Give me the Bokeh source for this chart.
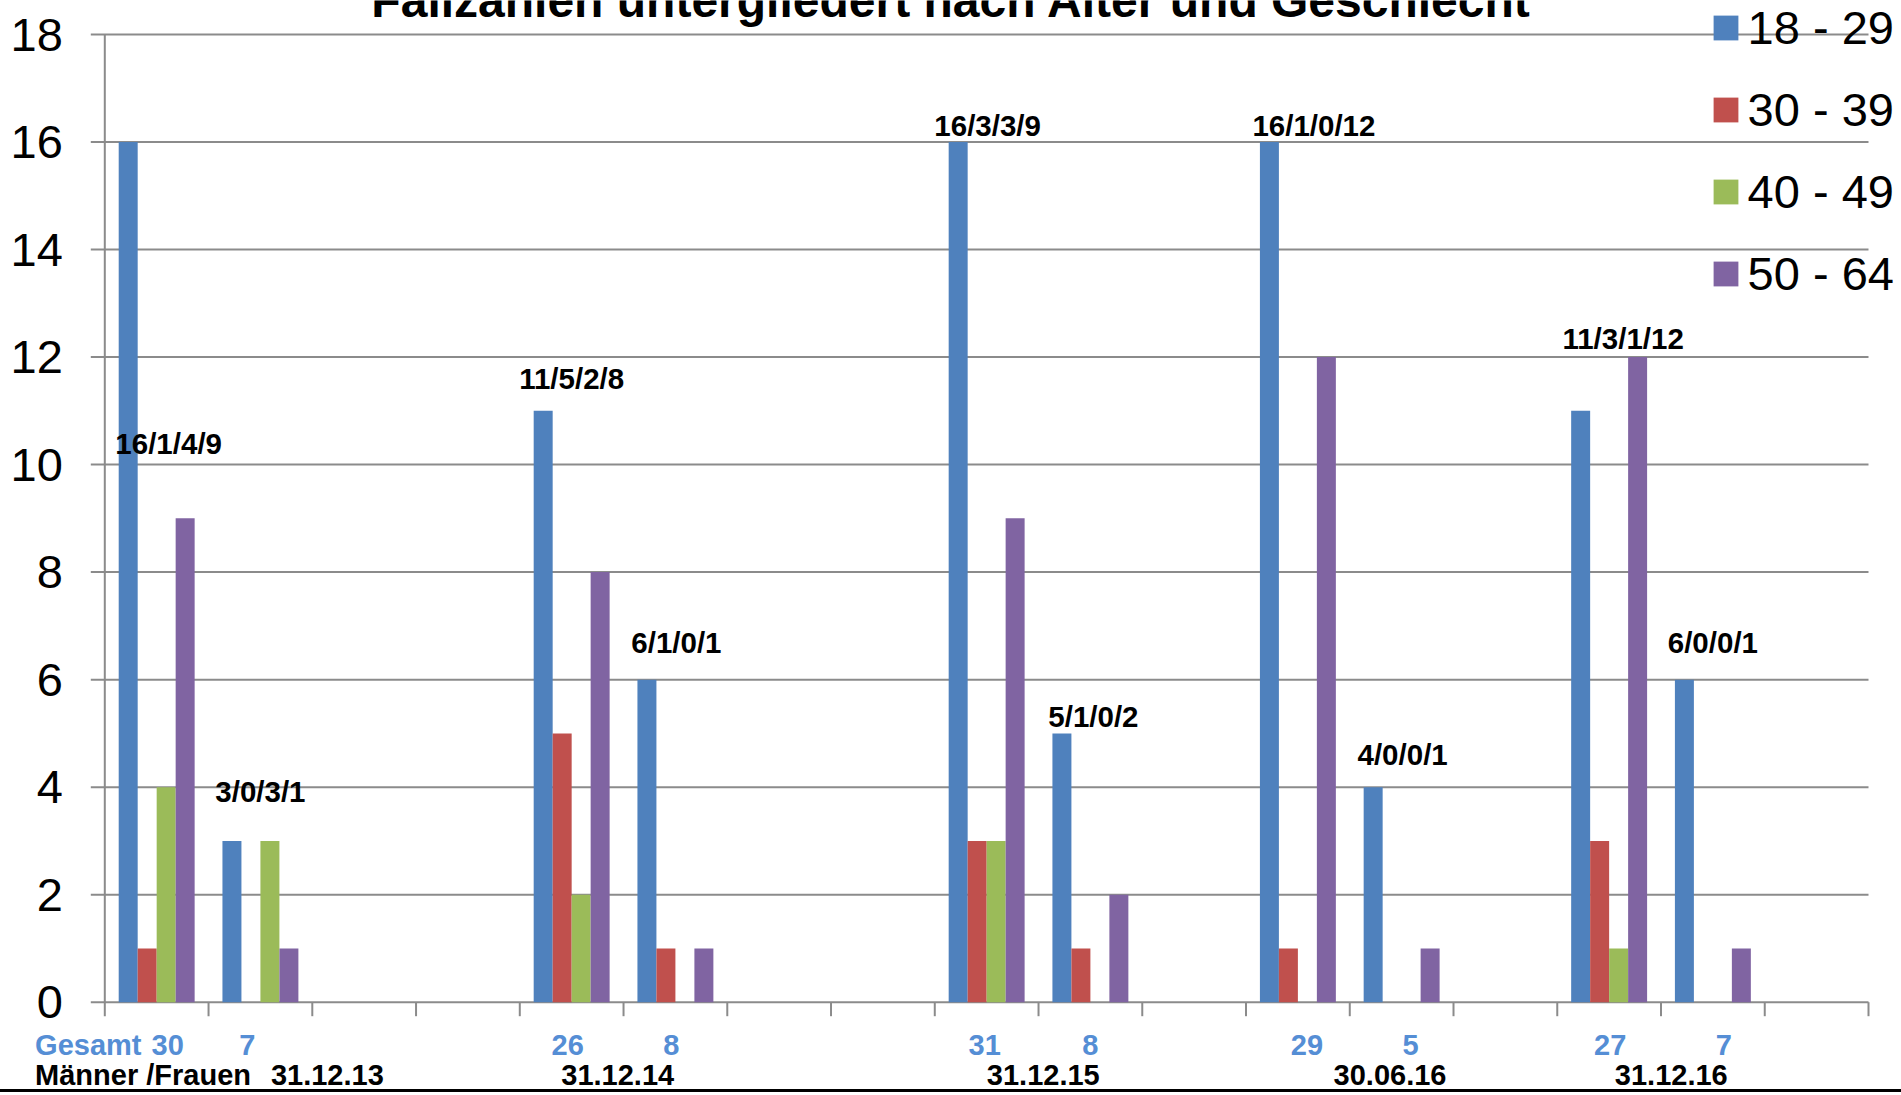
from bokeh.plotting import figure
from bokeh.models import (Range1d, ColumnDataSource, LabelSet, Label, Legend, LegendItem)
from bokeh.transform import dodge
from bokeh.core.properties import value
from bokeh.embed import file_html
from bokeh.resources import INLINE

# ---------------- data ----------------
title_text = "Fallzahlen untergliedert nach Alter und Geschlecht"
dates = ["31.12.13", "31.12.14", "31.12.15", "30.06.16", "31.12.16"]
genders = ["Männer", "Frauen"]
age_groups = ["18 - 29", "30 - 39", "40 - 49", "50 - 64"]
age_18_29 = [16, 3, 11, 6, 16, 5, 16, 4, 11, 6]
age_30_39 = [1, 0, 5, 1, 3, 1, 1, 0, 3, 0]
age_40_49 = [4, 3, 2, 0, 3, 0, 0, 0, 1, 0]
age_50_64 = [9, 1, 8, 1, 9, 2, 12, 1, 12, 1]
y_ticks = [0, 2, 4, 6, 8, 10, 12, 14, 16, 18]
total_prefix = "Gesamt"
row_prefix = "Männer /Frauen"

# ---------------- layout / style ----------------
W, H = 1901, 1092                  # canvas (plus a 3px bottom border line)
X0_PX, X17_PX = 104.3, 1868.0      # pixel columns of the category axis ends
Y0_PX, Y18_PX = 1001.7, 34.0       # pixel rows of value 0 and value 18
gaps_after = [2, 2, 1, 1, 1]       # empty category slots after each date group
label_dx = [12, 0, 0, 1, 1, 3, 16, 1, 14, 0]        # px nudges of value labels
label_y = [10.4, 3.92, 11.6, 6.7, 16.3, 5.32, 16.3, 4.6, 12.34, 6.7]
total_dx = [11, -13, -4, -4, -2, 0, 9, 9, 1, 11]    # px nudges of totals
date_x = [2.145, 4.944, 9.046, 12.388, 15.099]      # date label centres (slot units)
prefix_x = -0.672
title_x, title_y = 8.161, 18.634
total_y, date_y = -0.804, -1.36

COLORS = ["#4F81BD", "#C0504D", "#9BBB59", "#8064A2"]
GRAY = "#8b8b8b"
BLUE_TXT = "#558ED5"
FONT = "Liberation Sans"

groups = [f"{d} {g}" for d in dates for g in genders]
slots = []
for i, d in enumerate(dates):
    slots += [f"{d} {g}" for g in genders]
    slots += [None] * gaps_after[i]
n_slots = len(slots)
slot_of = {s: i for i, s in enumerate(slots) if s is not None}
xc = [slot_of[g] + 0.5 for g in groups]

series = [age_18_29, age_30_39, age_40_49, age_50_64]
labels = ["/".join(str(s[i]) for s in series) for i in range(len(groups))]
totals = [str(sum(s[i] for s in series)) for i in range(len(groups))]

ux = (X17_PX - X0_PX) / n_slots
uy = (Y0_PX - Y18_PX) / 18.0
x_range = Range1d(-X0_PX / ux, (W - X0_PX) / ux)
y_range = Range1d(-(H - Y0_PX) / uy, 18 + Y18_PX / uy)

src = ColumnDataSource(dict(cat=groups, xc=xc, a=age_18_29, b=age_30_39, c=age_40_49, d=age_50_64,
                            label=labels, total=totals, lx=label_dx, ly=label_y, tx=total_dx))

p = figure(x_range=x_range, y_range=y_range, width=W, height=H,
           output_backend="svg", toolbar_location=None,
           x_axis_location=None, y_axis_location=None,
           min_border_left=0, min_border_right=0, min_border_top=0, min_border_bottom=0)
p.outline_line_color = None
p.background_fill_color = "white"
p.border_fill_color = "white"
p.styles = {"border-bottom": "3px solid black"}
for g in p.grid:
    g.visible = False

tick_len_x = 14 / ux
tick_len_y = 14 / uy
bounds = list(range(n_slots + 1))
# value gridlines with their outward tick stubs (the one at 0 is the category axis line)
p.segment(x0=-tick_len_x, x1=n_slots, y0=y_ticks, y1=y_ticks,
          line_color=GRAY, line_width=2, level="underlay")
# value axis line
p.segment(x0=0, x1=0, y0=0, y1=18, line_color=GRAY, line_width=2, level="underlay")
# category boundary ticks
p.segment(x0=bounds, x1=bounds, y0=-tick_len_y, y1=0,
          line_color=GRAY, line_width=2, level="underlay")

ysrc = ColumnDataSource(dict(y=y_ticks, t=[str(t) for t in y_ticks]))
p.add_layout(LabelSet(x=0, y="y", text="t", source=ysrc, x_offset=-42,
                      text_align="right", text_baseline="middle", text_font=value(FONT),
                      text_font_size="47px", text_color="black"))

bw = 0.183
offsets = [-1.5 * bw, -0.5 * bw, 0.5 * bw, 1.5 * bw]
renderers = []
for col, off, color in zip(["a", "b", "c", "d"], offsets, COLORS):
    r = p.vbar(x=dodge("xc", off), top=col, width=bw, source=src,
               fill_color=color, line_color=None)
    renderers.append(r)

legend = Legend(items=[LegendItem(label=name, renderers=[r]) for name, r in zip(age_groups, renderers)],
                location=(1709.6, 791), glyph_width=31, glyph_height=31, label_height=56,
                label_text_font=FONT, label_text_font_size="47px", label_text_color="black",
                label_standoff=7, spacing=26, padding=0, margin=0, border_line_color=None,
                background_fill_alpha=0)
p.add_layout(legend)

p.add_layout(LabelSet(x="xc", y="ly", text="label", x_offset="lx", source=src,
                      text_align="center", text_baseline="middle", text_font=value(FONT),
                      text_font_style="bold", text_font_size="29.5px", text_color="black"))

p.add_layout(LabelSet(x="xc", y=total_y, text="total", x_offset="tx", source=src,
                      text_align="center", text_baseline="middle", text_font=value(FONT),
                      text_font_style="bold", text_font_size="29px", text_color=BLUE_TXT))

p.add_layout(Label(x=prefix_x, y=total_y, text=total_prefix,
                   text_align="left", text_baseline="middle", text_font=FONT,
                   text_font_style="bold", text_font_size="29px", text_color=BLUE_TXT))

p.add_layout(Label(x=prefix_x, y=date_y, text=row_prefix,
                   text_align="left", text_baseline="middle", text_font=FONT,
                   text_font_style="bold", text_font_size="29px", text_color="black"))
dsrc = ColumnDataSource(dict(x=date_x, t=dates))
p.add_layout(LabelSet(x="x", y=date_y, text="t", source=dsrc,
                      text_align="center", text_baseline="middle", text_font=value(FONT),
                      text_font_style="bold", text_font_size="29px", text_color="black"))

p.add_layout(Label(x=title_x, y=title_y, text=title_text,
                   text_align="center", text_baseline="middle", text_font=FONT,
                   text_font_style="bold", text_font_size="48px", text_color="black"))

open("out.html", "w").write(file_html(p, INLINE))
